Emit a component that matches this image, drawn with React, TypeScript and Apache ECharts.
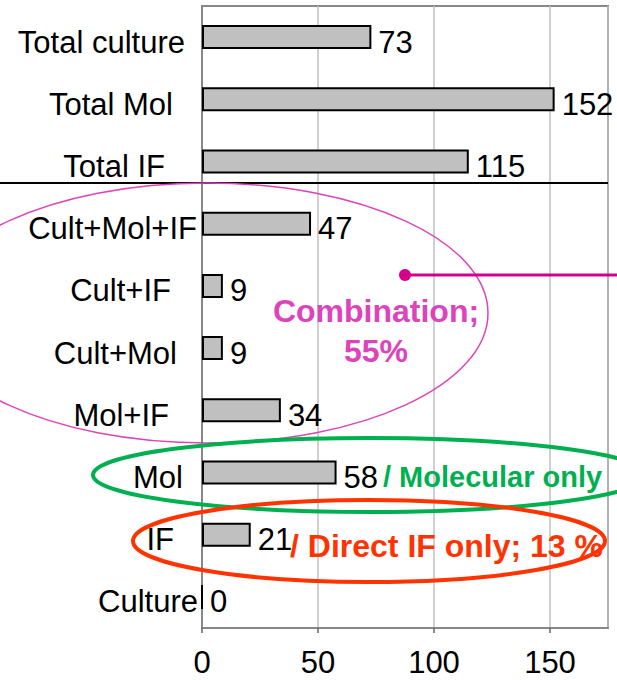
import React, { useEffect, useRef } from "react";
import * as echarts from "echarts";

const categories = [
  "Total culture",
  "Total Mol",
  "Total IF",
  "Cult+Mol+IF",
  "Cult+IF",
  "Cult+Mol",
  "Mol+IF",
  "Mol",
  "IF",
  "Culture",
];
const values = [73, 152, 115, 47, 9, 9, 34, 58, 21, 0];
const xTicks = [0, 50, 100, 150];
const labelGaps = [13, 25, 33, 1, 27, 21, 29, 15, 24, 0];

const FONT = "'Liberation Sans', Arial, Helvetica, sans-serif";

export default function App() {
  const ref = useRef<HTMLDivElement>(null);
  useEffect(() => {
    if (!ref.current) return;
    const chart = echarts.init(ref.current, undefined, { renderer: "svg" });
    const rich: Record<string, any> = {};
    labelGaps.forEach((g, i) => {
      rich["r" + i] = {
        fontSize: 31,
        fontFamily: FONT,
        color: "#000",
        padding: [10, g, 0, 0],
      };
    });
    chart.setOption({
      animation: false,
      backgroundColor: "#ffffff",
      grid: {
        left: 202,
        right: 9,
        top: 6,
        bottom: 52,
        show: true,
        borderColor: "#888888",
        borderWidth: 2,
      },
      xAxis: {
        type: "value",
        min: 0,
        max: 175,
        interval: 50,
        axisLine: { show: true, lineStyle: { color: "#888888", width: 2 } },
        axisTick: { show: true, length: 5, lineStyle: { color: "#666666", width: 1.5 } },
        splitLine: { show: true, lineStyle: { color: "#c0c0c0", width: 1.5 } },
        axisLabel: {
          showMaxLabel: false,
          fontSize: 31,
          lineHeight: 31,
          fontFamily: FONT,
          color: "#000",
          margin: 19,
          formatter: (v: number) => (xTicks.includes(v) ? String(v) : ""),
        },
      },
      yAxis: {
        type: "category",
        inverse: true,
        data: categories,
        axisLine: { show: true, lineStyle: { color: "#888888", width: 2 } },
        axisTick: { show: false },
        axisLabel: {
          margin: 4,
          fontSize: 31,
          fontFamily: FONT,
          color: "#000",
          formatter: (v: string, i: number) => `{r${i}|${v}}`,
          rich,
        },
      },
      series: [
        {
          type: "bar",
          data: values,
          barWidth: 24,
          itemStyle: { color: "#c0c0c0", borderColor: "#000", borderWidth: 2 },
          label: {
            show: true,
            position: "right",
            distance: 7,
            offset: [0, 5],
            fontSize: 31,
            fontFamily: FONT,
            color: "#000",
          },
        },
      ],
      graphic: [
        {
          type: "line",
          z: 100,
          shape: { x1: 0, y1: 183, x2: 608, y2: 183 },
          style: { stroke: "#000", lineWidth: 2 },
        },
        {
          type: "ellipse",
          z: 100,
          shape: { cx: 207, cy: 313, rx: 281, ry: 130 },
          style: { fill: "none", stroke: "#dd44bb", lineWidth: 1.5 },
        },
        {
          type: "line",
          z: 100,
          shape: { x1: 405, y1: 275, x2: 617, y2: 275 },
          style: { stroke: "#d4008c", lineWidth: 3 },
        },
        {
          type: "circle",
          z: 100,
          shape: { cx: 405, cy: 275, r: 6 },
          style: { fill: "#d4008c" },
        },
        {
          type: "text",
          z: 100,
          x: 376,
          y: 331,
          style: {
            text: "Combination;\n55%",
            fill: "#dd44bb",
            font: `bold 32px ${FONT}`,
            lineHeight: 40,
            align: "center",
            verticalAlign: "middle",
          },
        },
        {
          type: "ellipse",
          z: 100,
          shape: { cx: 370, cy: 475, rx: 277, ry: 37 },
          style: { fill: "none", stroke: "#00b050", lineWidth: 4 },
        },
        {
          type: "text",
          z: 100,
          x: 383,
          y: 477,
          style: {
            text: "/ Molecular only",
            fill: "#00b050",
            font: `bold 29px ${FONT}`,
            align: "left",
            verticalAlign: "middle",
          },
        },
        {
          type: "ellipse",
          z: 100,
          shape: { cx: 369, cy: 541, rx: 236, ry: 41 },
          style: { fill: "none", stroke: "#ff3300", lineWidth: 4 },
        },
        {
          type: "text",
          z: 100,
          x: 290,
          y: 546,
          style: {
            text: "/ Direct IF only; 13 %",
            fill: "#ff3300",
            font: `bold 32px ${FONT}`,
            align: "left",
            verticalAlign: "middle",
          },
        },
      ],
    });
    return () => chart.dispose();
  }, []);
  return (
    <div
      ref={ref}
      style={{ position: "fixed", left: 0, top: 0, width: 617, height: 680 }}
    />
  );
}
